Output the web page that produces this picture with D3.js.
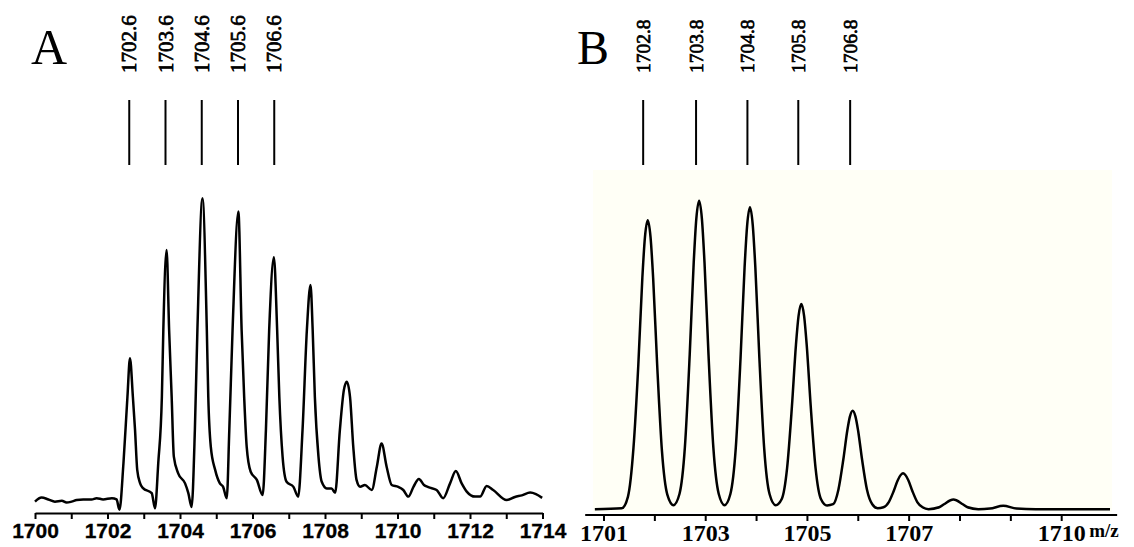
<!DOCTYPE html>
<html><head><meta charset="utf-8">
<script src="https://cdn.jsdelivr.net/npm/d3@7"></script>
<style>html,body{margin:0;padding:0;background:#fff;} svg{display:block;}</style>
</head><body>
<svg id="chart" width="1134" height="547"></svg>
<script>
// ---- Panel A: measured spectrum, [m/z, relative intensity]
const traceA = [
 [1700.00,3.6],[1700.18,4.9],[1700.37,4.3],[1700.55,3.6],[1700.74,3.9],[1700.87,3.3],[1701.01,3.6],
 [1701.15,4.1],[1701.33,4.3],[1701.56,4.3],[1701.70,4.7],[1701.88,4.3],[1702.12,4.7],[1702.25,4.3],
 [1702.33,1.0],[1702.44,15.8],[1702.55,36.9],[1702.62,49.1],[1702.70,36.9],[1702.76,26.3],[1702.82,13.7],
 [1702.90,9.4],[1702.98,7.9],[1703.22,6.3],[1703.31,1.5],[1703.40,15.8],[1703.50,36.9],[1703.54,58.1],
 [1703.63,83.5],[1703.70,58.1],[1703.77,36.9],[1703.83,17.9],[1703.95,12.6],[1704.14,9.4],[1704.23,6.3],
 [1704.32,1.9],[1704.41,26.3],[1704.48,58.1],[1704.62,99.9],[1704.74,58.1],[1704.78,36.9],[1704.85,21.0],
 [1704.97,13.7],[1705.10,9.4],[1705.19,8.3],[1705.29,4.7],[1705.36,26.3],[1705.45,58.1],[1705.61,95.7],
 [1705.70,58.1],[1705.77,36.9],[1705.84,21.0],[1705.95,13.1],[1706.12,10.5],[1706.28,5.7],[1706.37,26.3],
 [1706.46,58.1],[1706.59,81.2],[1706.68,58.1],[1706.74,36.9],[1706.83,17.9],[1706.94,9.9],[1707.13,8.3],
 [1707.26,5.2],[1707.38,26.3],[1707.50,58.1],[1707.60,72.4],[1707.66,58.1],[1707.72,36.9],[1707.82,17.9],
 [1707.91,9.9],[1708.05,7.8],[1708.18,7.8],[1708.28,6.4],[1708.41,26.3],[1708.52,39.0],[1708.60,41.7],
 [1708.69,36.9],[1708.78,21.0],[1708.87,10.5],[1708.97,8.3],[1709.10,8.9],[1709.29,7.3],[1709.43,14.7],
 [1709.56,22.1],[1709.70,14.7],[1709.84,8.9],[1710.02,8.3],[1710.16,7.3],[1710.30,5.2],[1710.44,8.3],
 [1710.59,10.8],[1710.73,8.9],[1710.85,8.2],[1711.08,7.3],[1711.26,4.7],[1711.45,9.4],[1711.61,13.3],
 [1711.77,9.4],[1711.91,6.8],[1712.14,5.2],[1712.28,5.2],[1712.46,8.6],[1712.64,7.3],[1713.01,4.1],
 [1713.24,5.1],[1713.43,5.6],[1713.66,6.5],[1713.82,6.0],[1713.99,4.8]
];
// ---- Panel B: simulated isotope pattern, [m/z, relative intensity]
const traceB = [
 [1700.83,0],[1701.36,0.3],[1701.48,4.0],[1701.59,20.0],[1701.685,46.9],[1701.764,75.0],[1701.815,88.2],
 [1701.87,93.7],[1701.925,88.2],[1701.976,75.0],[1702.055,46.9],[1702.15,18.7],[1702.255,4.7],[1702.375,1.3],
 [1702.495,5.0],[1702.60,20.0],[1702.695,50.0],[1702.774,80.0],[1702.825,94.1],[1702.88,100],[1702.935,94.1],
 [1702.986,80.0],[1703.065,50.0],[1703.16,20.0],[1703.265,5.0],[1703.38,1.3],
 [1703.495,4.9],[1703.60,19.6],[1703.695,49.0],[1703.774,78.3],[1703.825,92.1],[1703.88,97.9],[1703.935,92.1],
 [1703.986,78.3],[1704.065,49.0],[1704.16,19.6],[1704.265,4.9],[1704.385,1.3],
 [1704.505,3.3],[1704.61,13.3],[1704.705,33.3],[1704.784,53.2],[1704.835,62.6],[1704.89,66.5],[1704.945,62.6],
 [1704.996,53.2],[1705.075,33.3],[1705.17,13.3],[1705.275,3.3],[1705.395,1.2],
 [1705.515,1.6],[1705.62,6.4],[1705.715,16.0],[1705.794,25.5],[1705.845,30.0],[1705.90,31.9],[1705.955,30.0],
 [1706.006,25.5],[1706.085,16.0],[1706.18,6.4],[1706.285,1.6],[1706.39,0.3],
 [1706.505,0.6],[1706.61,2.3],[1706.705,5.8],[1706.784,9.3],[1706.89,11.6],[1706.996,9.3],[1707.075,5.8],
 [1707.17,2.3],[1707.275,0.6],[1707.39,0],
 [1707.60,0.6],[1707.695,1.6],[1707.88,3.1],[1708.065,1.6],[1708.16,0.6],[1708.37,0],
 [1708.60,0.2],[1708.86,1.1],[1709.12,0.2],[1709.50,0],[1710.20,0],[1710.96,0]
];
const markersA = [1702.6, 1703.6, 1704.6, 1705.6, 1706.6];
const markerLabelsA = ["1702.6", "1703.6", "1704.6", "1705.6", "1706.6"];
const markersB = [1701.78, 1702.82, 1703.83, 1704.83, 1705.85];
const markerLabelsB = ["1702.8", "1703.8", "1704.8", "1705.8", "1706.8"];
const ticksA = [1700,1701,1702,1703,1704,1705,1706,1707,1708,1709,1710,1711,1712,1713,1714];
const tickLabelsA = [1700,1702,1704,1706,1708,1710,1712,1714];
const ticksB = [1701,1702,1703,1704,1705,1706,1707,1708,1709,1710];
const tickLabelsB = [1701,1703,1705,1707,1710];
const axisExtentB = [1700.64, 1711.1];
const panelLetters = ["A", "B"];
const unitLabel = "m/z";

const svg = d3.select("#chart");
const serif = "'Liberation Serif','Times New Roman',serif";
const sans = "'Liberation Sans',Arial,sans-serif";

const xA = d3.scaleLinear([1700, 1714], [35, 542.5]);
const yA = d3.scaleLinear([0, 100], [513, 198]);
const xB = d3.scaleLinear([1701, 1710], [603.5, 1061.2]);
const yB = d3.scaleLinear([-1.9, 100], [515, 200.7]);

// faint tint behind panel B
svg.append("rect").attr("x", 593).attr("y", 170).attr("width", 519).attr("height", 342)
  .attr("fill", "#fffff6");

// ---- traces
const lineA = d3.line().x(d => xA(d[0])).y(d => yA(d[1])).curve(d3.curveMonotoneX);
const lineB = d3.line().x(d => xB(d[0])).y(d => yB(d[1])).curve(d3.curveMonotoneX);
svg.append("path").attr("d", lineA(traceA)).attr("fill", "none").attr("stroke", "#000")
  .attr("stroke-width", 2.5).attr("stroke-linejoin", "round");
svg.append("path").attr("d", lineB(traceB)).attr("fill", "none").attr("stroke", "#000")
  .attr("stroke-width", 2.5).attr("stroke-linejoin", "round");

// ---- axes
const axA = svg.append("g").attr("transform", `translate(0,${yA(0)})`)
  .call(d3.axisBottom(xA).tickValues(ticksA).tickSize(6).tickSizeOuter(0)
    .tickFormat(d => tickLabelsA.includes(d) ? String(d) : ""));
axA.select(".domain").attr("stroke", "#000").attr("stroke-width", 2.2);
axA.selectAll(".tick line").attr("stroke", "#000").attr("stroke-width", 2);
axA.selectAll(".tick text").attr("fill", "#000").attr("y", 10).attr("dy", "0.71em")
  .attr("stroke", "#000").attr("stroke-width", 0.3)
  .style("font-family", sans).style("font-size", "21px").style("font-weight", "bold");

const axB = svg.append("g").attr("transform", `translate(0,${yB.range()[0]})`)
  .call(d3.axisBottom(xB).tickValues(ticksB).tickSize(6).tickSizeOuter(0)
    .tickFormat(d => tickLabelsB.includes(d) ? String(d) : ""));
axB.select(".domain").remove();
axB.append("line").attr("x1", xB(axisExtentB[0])).attr("x2", xB(axisExtentB[1]))
  .attr("stroke", "#000").attr("stroke-width", 2.2);
axB.selectAll(".tick line").attr("stroke", "#000").attr("stroke-width", 2);
axB.selectAll(".tick text").attr("fill", "#000").attr("y", 10).attr("dy", "0.68em")
  .style("font-family", serif).style("font-size", "24px").style("font-weight", "bold");
axB.append("text").attr("x", 1104).attr("y", 22).text(unitLabel)
  .attr("fill", "#000").style("font-family", serif).style("font-size", "19px").style("font-weight", "bold");

// ---- peak markers
function markers(xs, vals, labels, size) {
  const g = svg.append("g");
  g.selectAll("line").data(vals).join("line")
    .attr("x1", d => xs(d)).attr("x2", d => xs(d)).attr("y1", 100).attr("y2", 165)
    .attr("stroke", "#000").attr("stroke-width", 2);
  g.selectAll("text").data(vals).join("text")
    .attr("transform", d => `translate(${xs(d)},73) rotate(-90)`)
    .attr("dy", "0.34em").attr("fill", "#000").attr("stroke", "#000").attr("stroke-width", 0.7)
    .style("font-family", serif).style("font-size", size + "px")
    .text((d, i) => labels[i]);
}
markers(xA, markersA, markerLabelsA, 21);
markers(xB, markersB, markerLabelsB, 19.5);

// ---- panel letters
svg.append("text").attr("x", 31).attr("y", 64).text(panelLetters[0])
  .style("font-family", serif).style("font-size", "50px").attr("fill", "#000");
svg.append("text").attr("x", 577).attr("y", 63.5).text(panelLetters[1])
  .style("font-family", serif).style("font-size", "48px").attr("fill", "#000");
</script>
</body></html>
